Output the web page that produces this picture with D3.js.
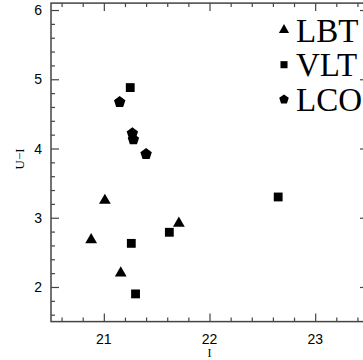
<!DOCTYPE html>
<html>
<head>
<meta charset="utf-8">
<script src="https://cdn.jsdelivr.net/npm/d3@7"></script>
<style>
  body { margin: 0; background: #fff; }
  svg { display: block; }
</style>
</head>
<body>
<svg id="chart" width="363" height="360"></svg>
<script>
// data (I, U-I)
const lbtI = [21.01, 20.88, 21.71, 21.16];
const lbtUI = [3.25, 2.68, 2.92, 2.20];
const vltI = [21.25, 22.65, 21.62, 21.26, 21.30];
const vltUI = [4.88, 3.30, 2.79, 2.63, 1.90];
const lcoI = [21.15, 21.27, 21.28, 21.40];
const lcoUI = [4.67, 4.22, 4.13, 3.92];
const xTicks = [21, 22, 23];
const yTicks = [2, 3, 4, 5, 6];
const legendNames = ['LBT', 'VLT', 'LCO'];

const serif = "'Liberation Serif', 'DejaVu Serif', 'Times New Roman', Times, serif";
const sans = "'Liberation Sans', Arial, Helvetica, sans-serif";

const svg = d3.select('#chart');
const mLeft = 51, mRight = 368, mTop = 3.1, mBottom = 321.6;

const x = d3.scaleLinear().domain([20.5, 23.5]).range([mLeft, mRight]);
const y = d3.scaleLinear().domain([1.5, 6.1]).range([mBottom, mTop]);

const axisColor = '#444';
const minorX = d3.range(20.6, 23.5, 0.2).map(d => +d.toFixed(1)).filter(d => !xTicks.includes(d));
const minorY = d3.range(1.6, 6.1, 0.2).map(d => +d.toFixed(1)).filter(d => !yTicks.includes(d));

// inward ticks on all four sides
function ticks(axis, vals, len) {
  return axis.tickValues(vals).tickSize(-len).tickFormat('');
}
const g = svg.append('g');
g.append('g').attr('transform', `translate(0,${mBottom})`).call(ticks(d3.axisBottom(x), xTicks, 8));
g.append('g').attr('transform', `translate(0,${mBottom})`).call(ticks(d3.axisBottom(x), minorX, 4));
g.append('g').attr('transform', `translate(0,${mTop})`).call(ticks(d3.axisTop(x), xTicks, 8));
g.append('g').attr('transform', `translate(0,${mTop})`).call(ticks(d3.axisTop(x), minorX, 4));
g.append('g').attr('transform', `translate(${mLeft},0)`).call(ticks(d3.axisLeft(y), yTicks, 8));
g.append('g').attr('transform', `translate(${mLeft},0)`).call(ticks(d3.axisLeft(y), minorY, 4));
g.append('g').attr('transform', `translate(${mRight},0)`).call(ticks(d3.axisRight(y), yTicks, 8));
g.append('g').attr('transform', `translate(${mRight},0)`).call(ticks(d3.axisRight(y), minorY, 4));
g.selectAll('.domain').remove();
g.selectAll('line').attr('stroke', axisColor).attr('stroke-width', 1.2);

svg.append('rect')
  .attr('x', mLeft).attr('y', mTop)
  .attr('width', mRight - mLeft).attr('height', mBottom - mTop)
  .attr('fill', 'none').attr('stroke', axisColor).attr('stroke-width', 1.5);

// tick labels
svg.selectAll('.xl').data(xTicks).enter().append('text')
  .attr('font-family', sans)
  .attr('font-size', 14)
  .attr('x', d => x(d)).attr('y', mBottom + 22)
  .attr('text-anchor', 'middle')
  .text(d => d);
svg.selectAll('.yl').data(yTicks).enter().append('text')
  .attr('font-family', sans)
  .attr('font-size', 14)
  .attr('x', mLeft - 9).attr('y', d => y(d) + 5)
  .attr('text-anchor', 'end')
  .text(d => d);

// axis titles
svg.append('text')
  .attr('font-family', serif)
  .attr('font-size', 12)
  .attr('x', x(22)).attr('y', 356.5)
  .attr('text-anchor', 'middle')
  .text('I');
svg.append('text')
  .attr('font-family', serif)
  .attr('font-size', 13)
  .attr('transform', `translate(24,${y(3.85)}) rotate(-90)`)
  .attr('text-anchor', 'middle')
  .text('U−I');

// markers
function pentagon(r) {
  const pts = d3.range(5).map(i => {
    const a = -Math.PI / 2 + i * 2 * Math.PI / 5;
    return [r * Math.cos(a), r * Math.sin(a)];
  });
  return 'M' + pts.join('L') + 'Z';
}
const tri = s => d3.symbol(d3.symbolTriangle, s)();
const sq = s => d3.symbol(d3.symbolSquare, s)();

svg.selectAll('.lbt').data(lbtI).enter().append('path')
  .attr('d', tri(60))
  .attr('transform', (d, i) => `translate(${x(d)},${y(lbtUI[i])})`)
  .attr('fill', '#000');
svg.selectAll('.vlt').data(vltI).enter().append('path')
  .attr('d', sq(78))
  .attr('transform', (d, i) => `translate(${x(d)},${y(vltUI[i])})`)
  .attr('fill', '#000');
svg.selectAll('.lco').data(lcoI).enter().append('path')
  .attr('d', pentagon(6))
  .attr('transform', (d, i) => `translate(${x(d)},${y(lcoUI[i])})`)
  .attr('fill', '#000');

// legend
const legShapes = [tri(45), sq(50), pentagon(5)];
const leg = svg.selectAll('.leg').data(legendNames).enter().append('g')
  .attr('transform', (d, i) => `translate(284,${30 + i * 34.7})`);
leg.append('path').attr('d', (d, i) => legShapes[i]).attr('fill', '#000');
leg.append('text')
  .attr('font-family', serif)
  .attr('font-size', 33)
  .attr('x', 12).attr('y', 11.5)
  .text(d => d);
</script>
</body>
</html>
